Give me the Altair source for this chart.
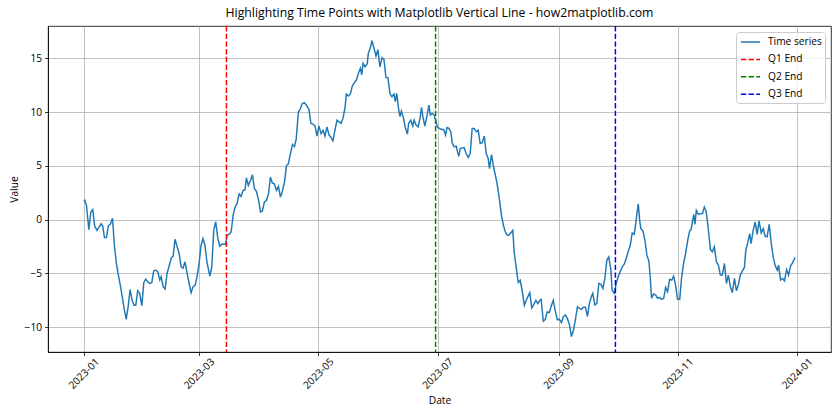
import altair as alt
import pandas as pd

# ---- data ----
day_offsets = [
    0, 0.5, 1.4, 2.6, 3.6, 4.6, 5.6, 6.8, 7.8, 8.9, 9.7, 10.6, 11.6, 12.6, 13.6, 14.7,
    15.7, 16.7, 17.7, 18.8, 19.8, 20.8, 21.7, 22.7, 23.7, 24.7, 25.7, 26.6, 27.6, 28.6,
    29.7, 30.7, 31.7, 32.7, 33.8, 34.8, 35.8, 36.8, 37.9, 38.9, 39.6, 40.6, 41.6, 42.6,
    43.7, 44.7, 45.7, 46.7, 47.7, 48.8, 49.8, 50.8, 51.8, 52.9, 53.9, 54.9, 55.9, 57,
    58, 59, 60, 61, 62, 63, 64.5, 65.5, 66.5, 67.5, 68.6, 69.6, 70.6, 71.6, 72.6, 73.3,
    74.4, 75.4, 76.4, 77.4, 78.4, 79.5, 80.5, 81.5, 82.5, 83.2, 84.2, 85.3, 86.3, 87.3,
    88.3, 89.4, 90.4, 91.4, 92.4, 93.5, 94.5, 95.5, 96.5, 97.5, 98.6, 99.6,
    100.6, 101.6, 102.7, 103.7, 104.7, 105.7, 106.8, 107.8, 108.7, 109.8, 110.8, 111.8,
    112.8, 113.9, 115.2, 116.2, 117.3, 118.3, 119.3, 120.3, 121.4, 122.4, 123.4, 124.4,
    125.5, 126.5, 127.5, 128.5, 129.6, 130.6, 131.6, 132.6, 133.7, 134.3, 135.4, 136.4,
    137.4, 138.4, 139.5, 140.5, 141.5, 142.2, 142.9, 143.9, 145, 145.6, 146.7, 147.4,
    148.4, 149.5, 150.5, 151.5, 152.6, 153.6, 154.6, 155.6, 156.7, 157.7, 158.7, 159.4,
    160.1, 161.1, 161.8, 162.5, 163.5, 164.5, 165.6, 166.2, 167.3, 168.3, 169, 170,
    171.1, 172.1, 172.8, 173.5, 174.5, 175.5, 176.6, 177.3, 178.3, 179.3, 180, 181,
    182, 183.1, 184.1, 185.1, 185.8, 186.8, 187.8, 188.5, 189.5, 190.6, 191.2, 191.9,
    192.6, 193.6, 194.6, 195.6, 196.7, 197.7, 198.7, 199.7, 200.8, 201.8, 202.8, 203.8,
    204.9, 205.9, 206.9, 207.6, 208.6, 209.6, 210.7, 211.6, 212.6, 213.7, 214.7, 215.7,
    216.8, 217.8, 218.8, 219.5, 220.2, 221.3, 222.3, 223.3, 224.4, 225.4, 226.4, 227.5,
    228.2, 229.2, 230.2, 231.3, 232.3, 233.3, 234, 235.1, 236.1, 237.1, 238.2, 239.2,
    240.2, 241.3, 242.3, 243.3, 244.4, 245.4, 246.4, 247.4, 248.5, 249.5, 250.5, 251.5,
    252.6, 253.6, 254.6, 255.6, 256.7, 257.7, 258.7, 259.7, 260.4, 261.5, 262.5, 263.5,
    264.5, 265.6, 266.6, 267.6, 268.6, 269.7, 270.3, 271.4, 272.4, 273.4, 274.4, 275.5,
    276.5, 277.5, 278.5, 279.6, 280.6, 281.6, 282.3, 283, 283.7, 284.4, 285, 286.1,
    287.1, 288.1, 289.1, 289.8, 290.5, 291.5, 292.6, 293.6, 294.6, 295.6, 296.7, 297.7,
    298.7, 299.7, 300.8, 301.8, 302.8, 303.8, 304.9, 305.9, 306.9, 307.9, 309, 310,
    310.7, 311.4, 312.1, 312.7, 313.4, 314.4, 315.5, 316.5, 317.5, 318.5, 319.6, 320.6,
    321.6, 322.6, 323.7, 324.7, 325.7, 326.7, 327.8, 328.8, 329.8, 330.8, 331.8, 332.9,
    333.9, 334.9, 335.9, 337, 338, 338.7, 339.7, 340.7, 341.4, 342.5, 343.5, 344.5,
    345.5, 346.6, 347.6, 348.6, 349.6, 350.7, 351.7, 352.7, 353.7, 354.8, 355.5, 356.5,
    357.5, 358.5, 359.6, 360.6, 361.6, 362.6, 364,
]
values = [
    1.73, 1.8, 1.3, -0.93, 0.7, 0.93, -0.6, -1.0, -0.7, -0.37, -0.6, -1.67, -1.67, -0.56, -0.43, 0.12,
    -2.5, -4.07, -5.15, -6.2, -7.3, -8.4, -9.26, -8.1, -6.5, -7.47, -7.96, -7.96, -6.6, -6.85,
    -8.0, -5.86, -5.52, -5.77, -5.93, -5.86, -4.75, -4.69, -4.85, -5.6, -5.3, -6.23, -6.45, -5.0,
    -4.29, -3.6, -3.4, -1.82, -2.47, -3.15, -4.38, -4.5, -3.92, -5.0, -5.93, -6.79, -6.23, -6.08,
    -5.25, -4.07, -2.38, -1.76, -2.38, -3.92, -5.25, -4.38, -0.99, -0.2, -1.76, -2.47, -2.28, -2.28, -2.28, -1.45,
    -1.36, -1.14, 0.4, 1.17, 1.48, 2.4, 2.16, 2.72, 2.78, 3.89, 3.18, 3.64, 4.17, 2.87,
    2.65, 1.85, 0.71, 0.8, 1.64, 1.79, 2.4, 3.95, 3.4, 3.33, 2.72, 3.09,
    2.1, 2.65, 3.49, 5.03, 5.19, 6.1, 6.98, 6.8, 7.5, 10.0, 10.3, 10.8,
    10.87, 10.65, 10.25, 8.94, 8.88, 8.7, 7.76, 8.7, 8.0, 8.3, 7.76, 8.63,
    7.86, 7.64, 7.33, 8.32, 9.25, 9.1, 8.94, 9.41, 10.43, 11.68, 11.49, 11.68,
    12.42, 12.73, 12.98, 13.6, 14.07, 13.45, 14.53, 14.22, 14.47, 15.47, 16.0, 16.65,
    16.0, 15.2, 15.8, 14.2, 15.06, 14.87, 13.2, 13.2, 11.68, 11.43, 11.68, 10.96,
    11.74, 10.25, 9.57, 10.1, 9.5, 8.57, 7.95, 8.94, 9.25, 8.7, 9.25, 8.8,
    8.63, 9.5, 10.43, 9.57, 8.7, 9.57, 10.65, 9.72, 9.88, 9.72, 9.25, 8.57,
    8.48, 8.39, 8.39, 7.86, 8.57, 8.48, 8.17, 7.14, 6.77, 6.83, 6.3, 5.9,
    6.6, 6.67, 6.7, 6.15, 5.78, 6.15, 8.48, 8.48, 8.17, 8.32, 7.08, 7.14,
    7.76, 6.15, 5.68, 4.75, 6.05, 4.97, 4.04, 3.2, 1.95, 0.4, -0.53, -1.15,
    -1.46, -1.39, -1.15, -1.0, -3.0, -4.55, -5.85, -5.63, -6.72, -7.96, -7.49, -7.03,
    -6.78, -8.2, -7.9, -7.5, -7.8, -7.5, -7.4, -9.44, -9.26, -8.58, -8.64, -8.0,
    -7.5, -8.55, -9.3, -9.26, -9.57, -9.0, -8.86, -9.17, -9.78, -10.86, -10.3, -9.32,
    -8.09, -8.24, -8.33, -8.15, -8.15, -9.0, -7.78, -7.16, -6.85, -7.93, -7.78, -5.93,
    -5.99, -6.39, -5.46, -3.77, -3.46, -4.69, -6.54, -6.85, -5.93, -5.31, -4.85, -4.38,
    -4.14, -3.61, -3.0, -2.38, -1.23, -1.36, -0.52, 0.56, 1.48, -0.06, -0.83, -1.05,
    -1.91, -3.3, -3.83, -5.31, -7.31, -6.91, -7.0, -7.31, -7.22, -7.41, -7.31, -6.3,
    -6.7, -5.56, -5.62, -5.25, -6.08, -7.41, -7.41, -5.31, -4.07, -3.15, -1.91, -1.05,
    -0.93, -0.22, 0.49, -0.43, 0.86, 0.49, 0.56, 0.56, 1.17, 0.71, -0.99, -2.78,
    -2.99, -2.53, -3.92, -4.23, -5.15, -5.15, -4.07, -5.93, -5.15, -6.23, -6.79, -5.46,
    -6.6, -6.08, -5.15, -4.75, -4.44, -2.84, -2.16, -1.3, -2.22, -0.99, -0.22, -1.36,
    -0.12, -1.23, -0.83, -1.54, -1.6, -0.43, -2.16, -3.46, -4.23, -4.69, -4.23, -5.62,
    -5.46, -5.68, -4.63, -5.15, -4.32, -4.01, -3.5,
]
start_date = "2023-01-01"
marker_names = ["Q1 End", "Q2 End", "Q3 End"]
marker_dates = ["2023-03-15", "2023-06-30", "2023-09-30"]
series_names = ["Time series", "Q1 End", "Q2 End", "Q3 End"]
series_colors = ["#1f77b4", "#ff0000", "#008000", "#0000ff"]
series_dashes = [[1, 0], [5.4, 2.3], [5.4, 2.3], [5.4, 2.3]]
x_tick_months = [(2023, 1), (2023, 3), (2023, 5), (2023, 7), (2023, 9), (2023, 11), (2024, 1)]
y_ticks = [-10, -5, 0, 5, 10, 15]

FONT = "Open Sans"
SMALL = 10.2

dates = pd.Timestamp(start_date) + pd.to_timedelta(day_offsets, unit="D")
ts = pd.DataFrame({
    "date": dates.strftime("%Y-%m-%dT%H:%M:%S"),
    "value": values,
    "series": "Time series",
})
marks = pd.DataFrame({
    "date": [d + "T00:00:00" for d in marker_dates],
    "series": marker_names,
})

x_scale = alt.Scale(domain=[
    alt.DateTime(year=2022, month=12, date=13, hours=16, minutes=48),
    alt.DateTime(year=2024, month=1, date=18, hours=7, minutes=12),
])
x_axis = alt.Axis(
    values=[alt.DateTime(year=y, month=m, date=1) for y, m in x_tick_months],
    format="%Y-%m", labelAngle=-45, labelAlign="center", labelBaseline="middle",
    labelPadding=18, titlePadding=5, grid=True,
)
y_scale = alt.Scale(domain=[-12.3, 18.0], nice=False, zero=False)
y_axis = alt.Axis(values=y_ticks, labelPadding=3, titlePadding=5, grid=True)

legend_def = alt.Legend(
    title=None, orient="top-right", symbolType="M-0.85,0H2.35", symbolSize=144,
    symbolStrokeWidth=1.46, labelFontSize=SMALL, labelFont=FONT, labelColor="black",
    strokeColor="#cccccc", fillColor="rgba(255,255,255,0.8)", padding=3,
    cornerRadius=3, rowPadding=4.4, offset=6, labelOffset=15,
)
color_enc = alt.Color(
    "series:N",
    scale=alt.Scale(domain=series_names, range=series_colors),
    sort=series_names,
    legend=legend_def,
)
dash_enc = alt.StrokeDash(
    "series:N",
    scale=alt.Scale(domain=series_names, range=series_dashes),
    sort=series_names,
    legend=legend_def,
)

line = alt.Chart(ts).mark_line(strokeWidth=1.46).encode(
    x=alt.X("date:T", scale=x_scale, axis=x_axis, title="Date"),
    y=alt.Y("value:Q", scale=y_scale, axis=y_axis, title="Value"),
    color=color_enc,
    strokeDash=dash_enc,
)
rules = alt.Chart(marks).mark_rule(strokeWidth=1.46).encode(
    x=alt.X("date:T"),
    color=color_enc,
    strokeDash=dash_enc,
)

chart = alt.layer(line, rules).properties(
    width=783, height=326,
    title=alt.Title(
        "Highlighting Time Points with Matplotlib Vertical Line - how2matplotlib.com",
        fontSize=12.25, font=FONT, fontWeight="normal", color="black", offset=6, anchor="middle",
    ),
    autosize=alt.AutoSizeParams(type="none"),
    padding={"left": 48, "top": 26, "right": 9, "bottom": 68},
).configure(
    font=FONT,
).configure_view(
    stroke="black", strokeWidth=0.8,
).configure_axis(
    domainColor="black", domainWidth=0.8, tickColor="black", tickWidth=0.8, tickSize=3.4,
    gridColor="#b0b0b0", gridWidth=0.78, labelColor="black", labelFontSize=SMALL,
    labelFont=FONT, titleFont=FONT, titleFontSize=SMALL, titleFontWeight="normal",
    titleColor="black",
)

chart.save("out.html", embed_options={"renderer": "svg", "actions": False})
